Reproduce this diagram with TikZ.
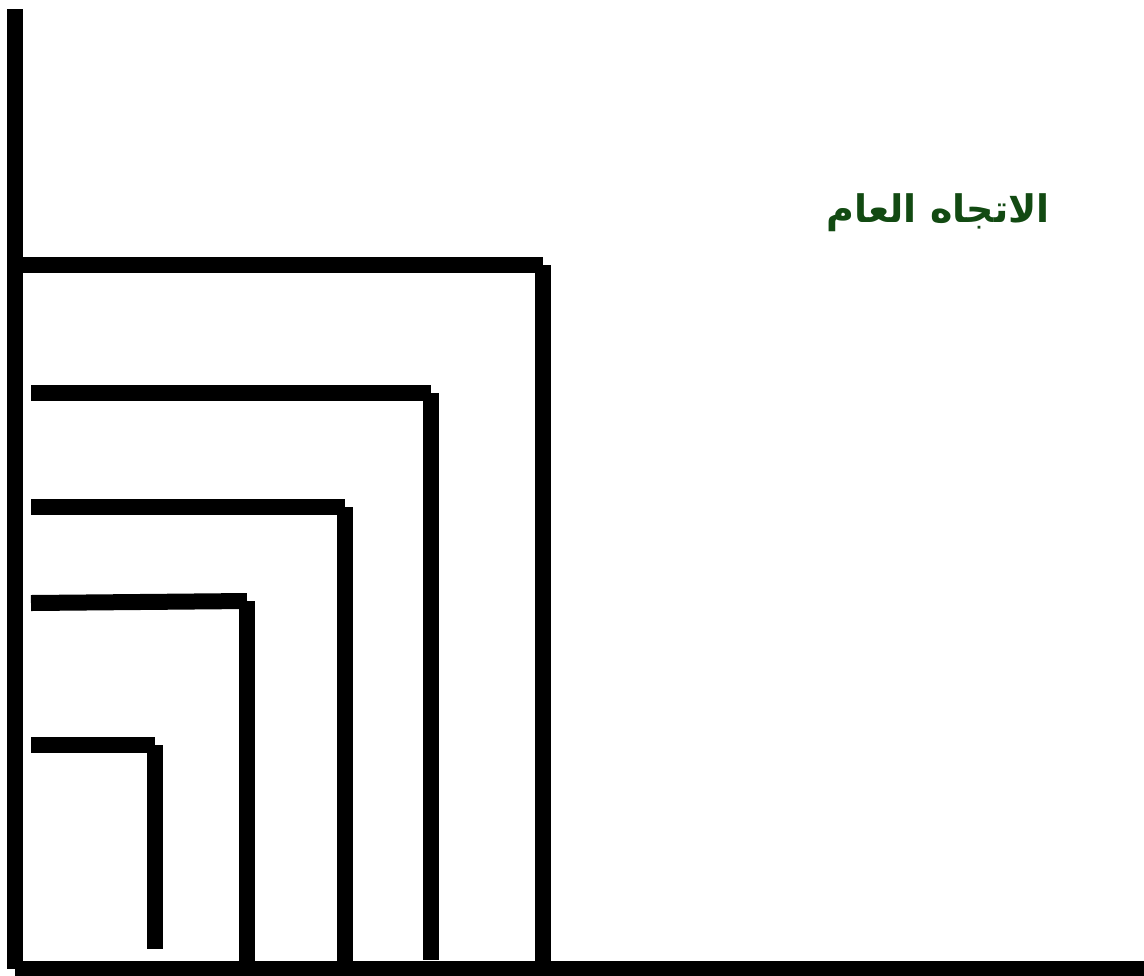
\documentclass[tikz,border=0pt]{standalone}
\usepackage{fontspec}
\usepackage{tikz}
\usetikzlibrary{positioning}
\TeXXeTstate=1
\newfontfamily\arabicfont[Script=Arabic]{DejaVu Sans}
\definecolor{trend}{HTML}{124A12}

\begin{document}
\begin{tikzpicture}[x=0.025cm, y=-0.025cm,
    bar/.style={line width=0.4cm, line cap=butt}]
  \useasboundingbox (0,0) rectangle (1144,975);
  % axes
  \coordinate (origin) at (15,969);
  \draw[bar] (15,9) -- (origin);
  \draw[bar] (origin) -- (1144,969);
  % outer frame
  \coordinate (outer) at (543,265);
  \draw[bar] (23,265) -- (outer);
  \draw[bar] (outer) -- (543,961);
  % inner steps
  \foreach \xc/\yl/\yc/\yb in {431/393/393/960, 345/507/507/961,
                               247/603/601/961, 155/745/745/949} {
    \draw[bar] (31,\yl) -- (\xc,\yc);
    \draw[bar] (\xc,\yc) -- (\xc,\yb);
  }
  \node[text=trend, font=\arabicfont\bfseries\fontsize{27}{32}\selectfont]
    (title) at (938,213) {\beginR الاتجاه العام\endR};
\end{tikzpicture}
\end{document}
